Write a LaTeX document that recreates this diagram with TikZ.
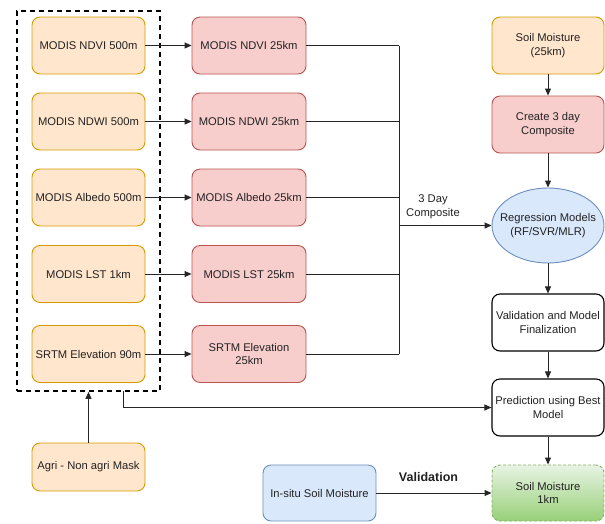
\documentclass[tikz,border=0pt]{standalone}
\usepackage{fontspec}
\setmainfont{Liberation Sans}
\usetikzlibrary{arrows.meta,shapes.geometric}
\definecolor{ofill}{HTML}{FFE6CC}\definecolor{ostroke}{HTML}{D79B00}
\definecolor{rfill}{HTML}{F8CECC}\definecolor{rstroke}{HTML}{B85450}
\definecolor{bfill}{HTML}{DAE8FC}\definecolor{bstroke}{HTML}{6C8EBF}
\definecolor{gtop}{HTML}{E8F3E4}\definecolor{gbot}{HTML}{97D077}\definecolor{gstroke}{HTML}{82B366}
\definecolor{txt}{HTML}{222222}
\tikzset{
  base/.style={rounded corners=8pt, line width=0.9pt, align=center, text=txt, inner sep=2pt,
    font=\fontsize{11.2}{13.5}\selectfont},
  obox/.style={base, fill=ofill, draw=ostroke, minimum width=113pt, minimum height=57pt},
  rbox/.style={base, fill=rfill, draw=rstroke, minimum width=114pt, minimum height=57pt},
  wbox/.style={base, fill=white, draw=black, line width=1.1pt, minimum width=112pt, minimum height=57pt},
  arr/.style={-{Triangle[length=7pt,width=6pt]}, line width=0.9pt, draw=black!85},
  ln/.style={line width=0.9pt, draw=black!85},
}
\begin{document}
\begin{tikzpicture}[x=1pt,y=-1pt]
\useasboundingbox (0,0) rectangle (605,523);
% left column
\node[obox] (o1) at (88.5,45.5) {MODIS NDVI 500m};
\node[obox] (o2) at (88.5,121.5) {MODIS NDWI 500m};
\node[obox] (o3) at (88.5,197.5) {MODIS Albedo 500m};
\node[obox] (o4) at (88.5,274) {MODIS LST 1km};
\node[obox] (o5) at (88.5,354) {SRTM Elevation 90m};
\node[obox, minimum height=48pt] (agri) at (88.5,467) {Agri - Non agri Mask};
% dashed group
\node[draw=black, line width=1.6pt, dash pattern=on 5pt off 4pt, minimum width=143pt, minimum height=380pt, inner sep=0pt] (grp) at (88.5,201) {};
% red column
\node[rbox] (r1) at (249,45.5) {MODIS NDVI 25km};
\node[rbox] (r2) at (249,121.5) {MODIS NDWI 25km};
\node[rbox] (r3) at (249,197.5) {MODIS Albedo 25km};
\node[rbox] (r4) at (249,274) {MODIS LST 25km};
\node[rbox] (r5) at (249,354) {SRTM Elevation\\25km};
% right column
\node[obox, minimum width=112pt] (sm) at (548,45.5) {Soil Moisture\\(25km)};
\node[rbox, minimum width=112pt] (c3) at (548,124.5) {Create 3 day\\Composite};
\node[ellipse, fill=bfill, draw=bstroke, line width=0.9pt, minimum width=112pt, minimum height=75pt, inner sep=0pt,
  label={[base, inner sep=0pt]center:Regression Models\\(RF/SVR/MLR)}] (reg) at (548,225.5) {};
\node[wbox] (val) at (548,322.5) {Validation and Model\\Finalization};
\node[wbox] (pred) at (548,407.5) {Prediction using Best\\Model};
\node[base, top color=gtop, bottom color=gbot, draw=gstroke, dash pattern=on 3pt off 2pt, minimum width=112pt, minimum height=56pt] (sm1) at (548,493) {Soil Moisture\\1km};
\node[base, fill=bfill, draw=bstroke, minimum width=113pt, minimum height=56pt] (insitu) at (319.5,493) {In-situ Soil Moisture};
% connectors
\foreach \i in {1,...,5} { \draw[arr] (o\i.east) -- (r\i.west); }
\coordinate (busTop) at (399,45.5);
\coordinate (busBot) at (399,354);
\coordinate (busMid) at (399,225.5);
\foreach \i in {1,...,5} { \draw[ln] (r\i.east) -- (r\i.east -| busTop); }
\draw[ln] (busTop) -- (busBot);
\draw[arr] (busMid) -- (reg.west);
\node[base, inner sep=0pt] (lbl) at (433,206.5) {3 Day\\Composite};
\draw[arr] (sm.south) -- (c3.north);
\draw[arr] (c3.south) -- (reg.north);
\draw[arr] (reg.south) -- (val.north);
\draw[arr] (val.south) -- (pred.north);
\draw[arr] (pred.south) -- (sm1.north);
\draw[arr] (agri.north) -- (agri.north |- grp.south);
\coordinate (gx) at (123,391);
\draw[arr] (gx) |- (pred.west);
\draw[arr] (insitu.east) -- (sm1.west);
\node[base, font=\fontsize{12.5}{14}\selectfont\bfseries, inner sep=0pt] (vlbl) at (428.5,477.5) {Validation};
\end{tikzpicture}
\end{document}
